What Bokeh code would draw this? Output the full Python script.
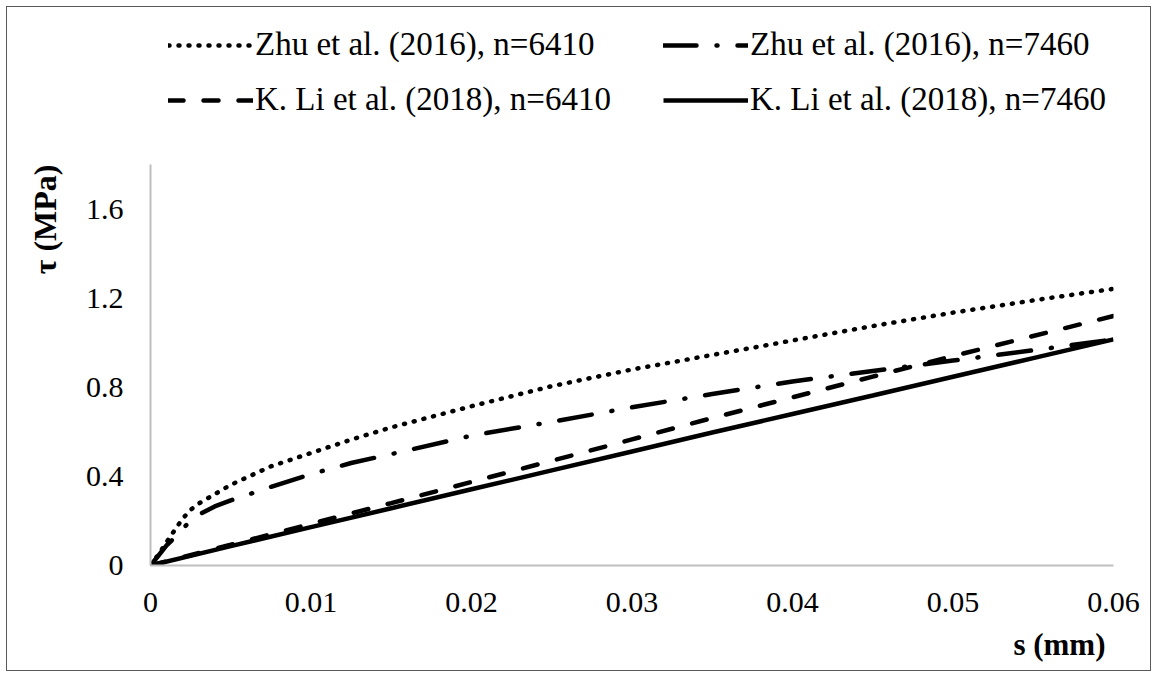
from bokeh.plotting import figure
from bokeh.models import (Range1d, FixedTicker, CustomJSTickFormatter, Legend,
                          LegendItem, Title)
from bokeh.embed import file_html
from bokeh.resources import INLINE

# ---------------- data ----------------
s_zhu = [0, 0.0005, 0.001, 0.0015, 0.002, 0.0025, 0.003, 0.004, 0.005, 0.0075,
         0.01, 0.0125, 0.015, 0.02, 0.025, 0.03, 0.035, 0.04, 0.045, 0.05,
         0.055, 0.06]
tau_zhu_6410 = [0, 0.05, 0.105, 0.158, 0.21, 0.25, 0.278, 0.32, 0.362, 0.445,
                0.505, 0.565, 0.62, 0.715, 0.805, 0.88, 0.945, 1.01, 1.075,
                1.135, 1.19, 1.242]
tau_zhu_7460 = [0, 0.045, 0.09, 0.125, 0.165, 0.2, 0.228, 0.265, 0.292, 0.353,
                0.41, 0.46, 0.50, 0.583, 0.645, 0.71, 0.77, 0.826, 0.873,
                0.92, 0.966, 1.015]

s_li = [0, 0.005, 0.01, 0.015, 0.02, 0.025, 0.03, 0.035, 0.04, 0.045, 0.05,
        0.055, 0.06]
tau_li_6410 = [0, 0.093, 0.187, 0.28, 0.375, 0.47, 0.566, 0.662, 0.755, 0.848,
               0.94, 1.03, 1.12]
tau_li_7460 = [0, 0.087, 0.172, 0.257, 0.342, 0.427, 0.512, 0.597, 0.68, 0.763,
               0.847, 0.931, 1.015]

x_ticks = [0, 0.01, 0.02, 0.03, 0.04, 0.05, 0.06]
y_ticks = [0, 0.4, 0.8, 1.2, 1.6]
y_axis_max = 1.8

names = ["Zhu et al. (2016), n=6410", "Zhu et al. (2016), n=7460",
         "K. Li et al. (2018), n=6410", "K. Li et al. (2018), n=7460"]
x_title = "s (mm)"
y_title = "\u03c4 (MPa)"

FONT = "Liberation Serif"
AXIS_GREY = "#bfbfbf"

# frame: 558 px tall in total, the axis (0..1.8) uses the lower 401 px;
# the upper part holds the legend (so it is not clipped)
FRAME_H = 558
AXIS_H = 401
y_top = y_axis_max * FRAME_H / AXIS_H

p = figure(width=1145, height=665, output_backend="svg", toolbar_location=None,
           x_range=Range1d(0, 0.06), y_range=Range1d(0, y_top),
           min_border_left=143, min_border_right=39, min_border_top=0,
           min_border_bottom=107)
p.styles = {"margin": "6px", "border": "1px solid #595959"}
p.outline_line_color = None
p.xgrid.visible = False
p.ygrid.visible = False
p.background_fill_color = "white"
p.border_fill_color = "white"

fmt = CustomJSTickFormatter(code="return String(parseFloat(tick.toFixed(4)));")
for ax, ticks, standoff in ((p.xaxis[0], x_ticks, 27), (p.yaxis[0], y_ticks, 27)):
    ax.ticker = FixedTicker(ticks=ticks)
    ax.formatter = fmt
    ax.major_tick_out = 0
    ax.major_tick_in = 0
    ax.minor_tick_out = 0
    ax.minor_tick_in = 0
    ax.axis_line_color = AXIS_GREY
    ax.axis_line_width = 2
    ax.major_label_text_font = FONT
    ax.major_label_text_font_size = "30px"
    ax.major_label_text_color = "black"
    ax.major_label_standoff = standoff
p.yaxis[0].bounds = (0, y_axis_max)

LW = 4.5
r1 = p.line(s_zhu, tau_zhu_6410, line_color="black", line_width=LW,
            line_dash="1 9", line_cap="round")
r2 = p.line(s_zhu, tau_zhu_7460, line_color="black", line_width=LW,
            line_dash="33 20 1 20", line_cap="round")
r3 = p.line(s_li, tau_li_6410, line_color="black", line_width=LW,
            line_dash="15 20", line_cap="round")
r4 = p.line(s_li, tau_li_7460, line_color="black", line_width=LW)

legend = Legend(items=[LegendItem(label=names[0], renderers=[r1]),
                       LegendItem(label=names[2], renderers=[r3]),
                       LegendItem(label=names[1], renderers=[r2]),
                       LegendItem(label=names[3], renderers=[r4])],
                orientation="vertical", ncols=2, location=(18, 447),
                glyph_width=85, glyph_height=36, label_standoff=2,
                label_width=390, label_height=36, spacing=18, padding=0,
                margin=0, border_line_alpha=0, background_fill_alpha=0,
                label_text_font=FONT, label_text_font_size="33px",
                label_text_color="black")
p.add_layout(legend, "center")

p.add_layout(Title(text=x_title, align="right", offset=8, standoff=21,
                   text_font=FONT, text_font_size="31px",
                   text_font_style="bold", text_color="black"), "below")
p.add_layout(Title(text=y_title, align="right", offset=157, standoff=35,
                   vertical_align="top",
                   text_font=FONT, text_font_size="32px",
                   text_font_style="bold", text_color="black"), "left")

open("out.html", "w").write(file_html(p, INLINE))
